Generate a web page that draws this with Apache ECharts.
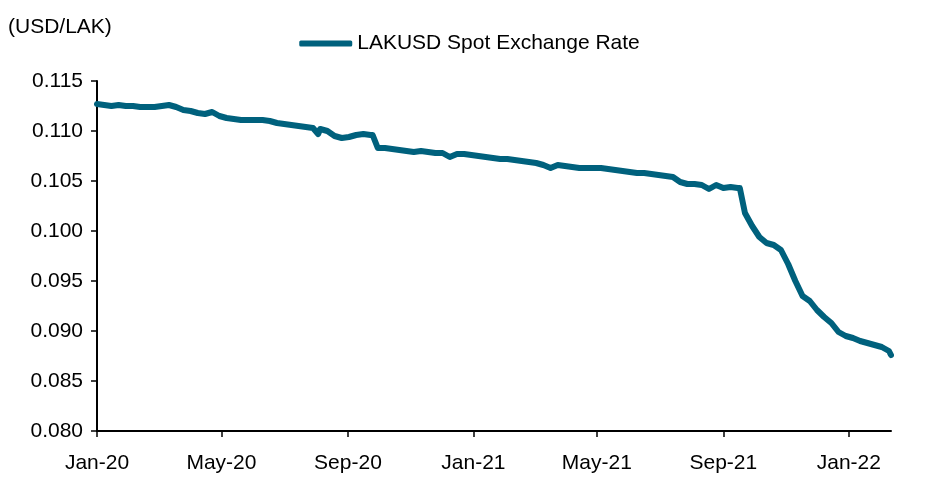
<!DOCTYPE html>
<html>
<head>
<meta charset="utf-8">
<script src="https://cdn.jsdelivr.net/npm/echarts@6/dist/echarts.min.js"></script>
<style>html,body{margin:0;padding:0;background:#fff;}#c{width:939px;height:479px;}</style>
</head>
<body>
<div id="c"></div>
<script>
// Dates (YYYY-MM-DD) and LAKUSD values
const dates = [
"2020-01-01","2020-01-08","2020-01-15","2020-01-22","2020-01-29","2020-02-05","2020-02-12","2020-02-19","2020-02-26","2020-03-04",
"2020-03-11","2020-03-18","2020-03-25","2020-04-01","2020-04-08","2020-04-15","2020-04-22","2020-04-29","2020-05-06","2020-05-13",
"2020-05-20","2020-05-27","2020-06-03","2020-06-10","2020-06-17","2020-06-24","2020-07-01","2020-07-08","2020-07-15","2020-07-22",
"2020-07-29","2020-08-03","2020-08-05","2020-08-12","2020-08-19","2020-08-26","2020-09-02","2020-09-09","2020-09-16","2020-09-23",
"2020-09-25","2020-09-30","2020-10-07","2020-10-14","2020-10-21","2020-10-28","2020-11-04","2020-11-11","2020-11-18","2020-11-25",
"2020-12-02","2020-12-09","2020-12-16","2020-12-23","2020-12-30","2021-01-06","2021-01-13","2021-01-20","2021-01-27","2021-02-03",
"2021-02-10","2021-02-17","2021-02-24","2021-03-03","2021-03-10","2021-03-17","2021-03-24","2021-03-31","2021-04-07","2021-04-14",
"2021-04-21","2021-04-28","2021-05-05","2021-05-12","2021-05-19","2021-05-26","2021-06-02","2021-06-09","2021-06-16","2021-06-23",
"2021-06-30","2021-07-07","2021-07-14","2021-07-21","2021-07-28","2021-08-04","2021-08-11","2021-08-18","2021-08-25","2021-09-01",
"2021-09-08","2021-09-15","2021-09-17","2021-09-22","2021-09-29","2021-10-06","2021-10-13","2021-10-20","2021-10-27","2021-11-03",
"2021-11-10","2021-11-17","2021-11-24","2021-12-01","2021-12-08","2021-12-15","2021-12-22","2021-12-29","2022-01-05","2022-01-12",
"2022-01-19","2022-01-26","2022-02-02","2022-02-09","2022-02-11"
];
const values = [
0.1127,0.1126,0.1125,0.1126,0.1125,0.1125,0.1124,0.1124,0.1124,0.1125,
0.1126,0.1124,0.1121,0.1120,0.1118,0.1117,0.1119,0.1115,0.1113,0.1112,
0.1111,0.1111,0.1111,0.1111,0.1110,0.1108,0.1107,0.1106,0.1105,0.1104,
0.1103,0.1097,0.1102,0.1100,0.1095,0.1093,0.1094,0.1096,0.1097,0.1096,
0.1096,0.1083,0.1083,0.1082,0.1081,0.1080,0.1079,0.1080,0.1079,0.1078,
0.1078,0.1074,0.1077,0.1077,0.1076,0.1075,0.1074,0.1073,0.1072,0.1072,
0.1071,0.1070,0.1069,0.1068,0.1066,0.1063,0.1066,0.1065,0.1064,0.1063,
0.1063,0.1063,0.1063,0.1062,0.1061,0.1060,0.1059,0.1058,0.1058,0.1057,
0.1056,0.1055,0.1054,0.1049,0.1047,0.1047,0.1046,0.1042,0.1046,0.1043,
0.1044,0.1043,0.1043,0.1018,0.1005,0.0994,0.0988,0.0986,0.0981,0.0967,
0.0950,0.0935,0.0930,0.0921,0.0914,0.0908,0.0899,0.0895,0.0893,0.0890,
0.0888,0.0886,0.0884,0.0880,0.0876
];
const tickDates = ["2020-01-01","2020-05-01","2020-09-01","2021-01-01","2021-05-01","2021-09-01","2022-01-01"];
const yTicks = [0.080,0.085,0.090,0.095,0.100,0.105,0.110,0.115];
const seriesName = "LAKUSD Spot Exchange Rate";
const unitLabel = "(USD/LAK)";

function ts(s){const p=s.split('-').map(Number);return Date.UTC(p[0],p[1]-1,p[2]);}
const MON=["Jan","Feb","Mar","Apr","May","Jun","Jul","Aug","Sep","Oct","Nov","Dec"];
const data = dates.map((d,i)=>[ts(d),values[i]]);
const tickTs = tickDates.map(ts);
const font = "Liberation Sans, Arial, sans-serif";
const color = "#00617D";
const FS = 21;

const chart = echarts.init(document.getElementById('c'), null, {renderer:'canvas'});
chart.setOption({
  animation:false,
  backgroundColor:'#fff',
  title:{text:unitLabel,left:3,top:12,textStyle:{fontFamily:font,fontSize:FS,fontWeight:'normal',color:'#000'}},
  legend:{top:28,left:'center',icon:'roundRect',itemWidth:53,itemHeight:6,itemGap:10,
    textStyle:{fontFamily:font,fontSize:FS,color:'#000'},
    data:[{name:seriesName,itemStyle:{color:color}}]},
  grid:{left:97,right:48,top:81,bottom:48,containLabel:false},
  xAxis:{type:'value',min:ts(dates[0]),max:ts(dates[dates.length-1]),
    axisLine:{lineStyle:{color:'#000',width:2}},
    axisTick:{show:true,length:6,lineStyle:{color:'#000',width:1.5},customValues:tickTs},
    axisLabel:{customValues:tickTs,fontFamily:font,fontSize:FS,color:'#000',margin:22,hideOverlap:false,
      formatter:function(v){const d=new Date(v);return MON[d.getUTCMonth()]+'-'+String(d.getUTCFullYear()).slice(2);}},
    splitLine:{show:false}},
  yAxis:{type:'value',min:yTicks[0],max:yTicks[yTicks.length-1],interval:0.005,
    axisLine:{show:true,lineStyle:{color:'#000',width:2}},
    axisTick:{show:true,length:6,lineStyle:{color:'#000',width:1.5}},
    axisLabel:{fontFamily:font,fontSize:FS,color:'#000',margin:14,formatter:v=>v.toFixed(3)},
    splitLine:{show:false}},
  series:[{name:seriesName,type:'line',data:data,showSymbol:false,symbol:'none',
    lineStyle:{color:color,width:6,cap:'round',join:'round'},itemStyle:{color:color}}]
});
</script>
</body>
</html>
